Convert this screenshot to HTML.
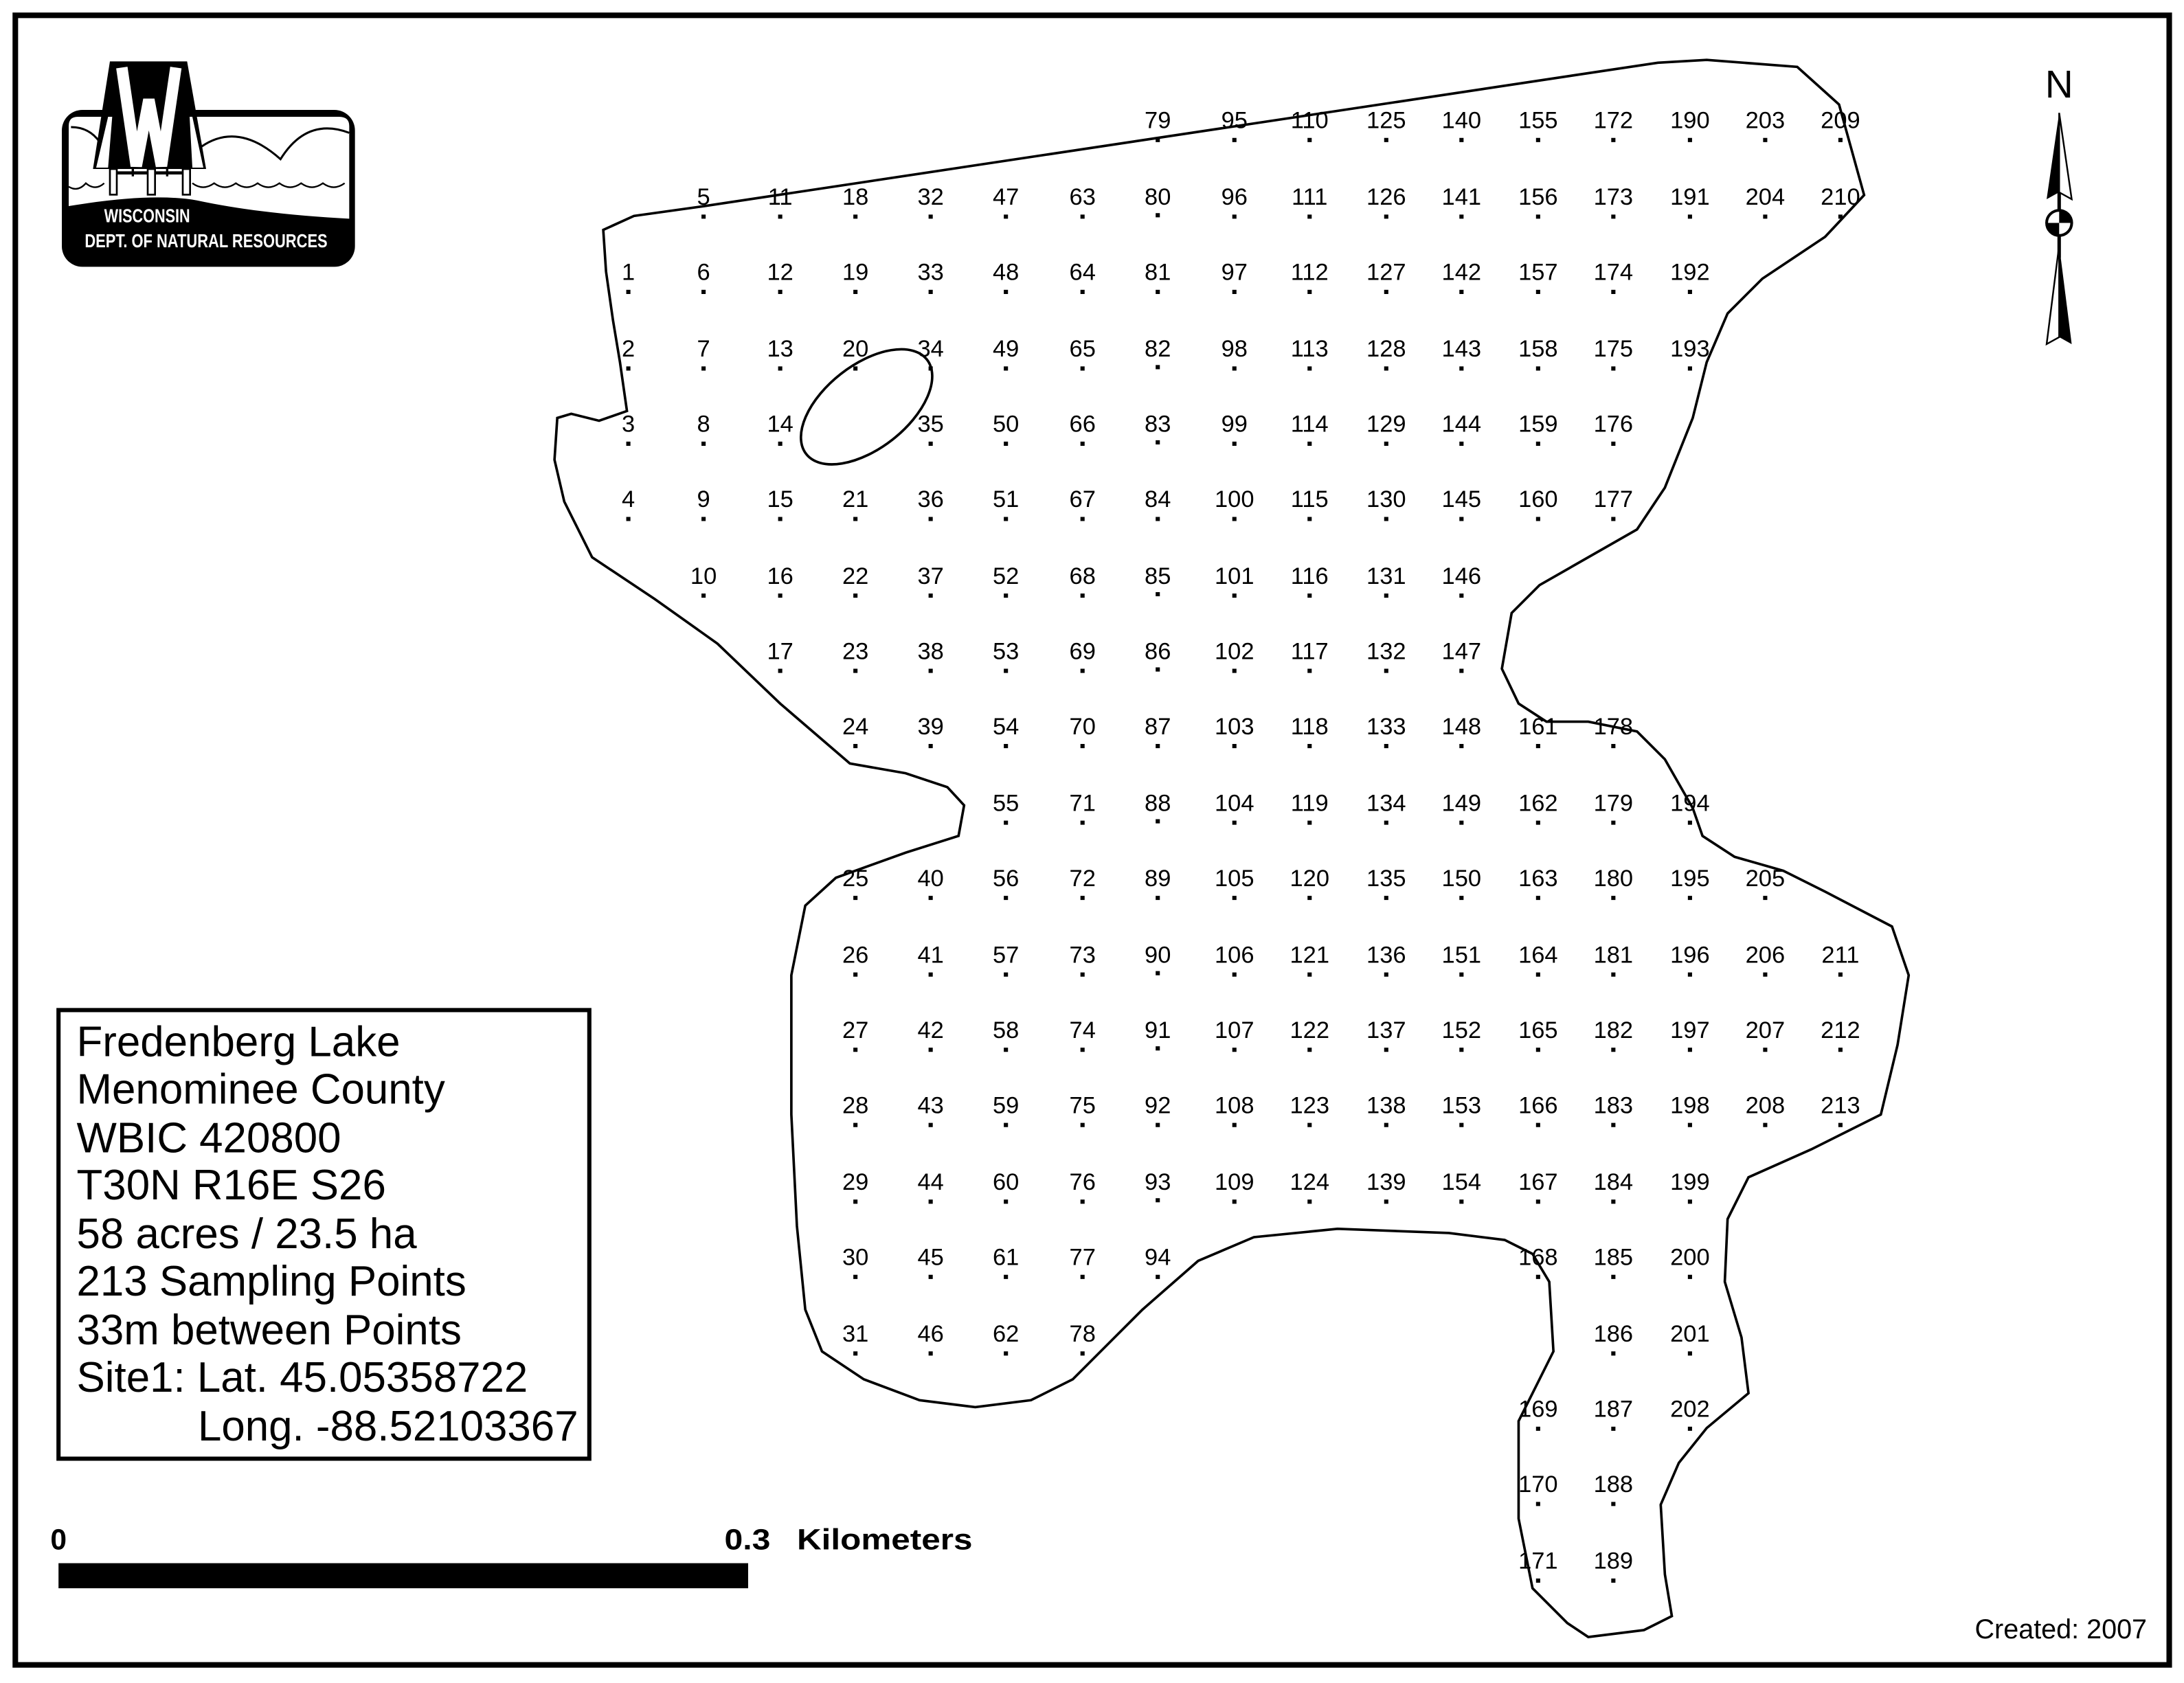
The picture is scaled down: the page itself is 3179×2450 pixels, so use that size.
<!DOCTYPE html>
<html><head><meta charset="utf-8"><style>
html,body{margin:0;padding:0;background:#fff}
svg{display:block}
.l text{font-family:"Liberation Sans",sans-serif;font-size:17px;text-anchor:middle;fill:#000}
</style></head><body>
<svg width="3179" height="2450" viewBox="0 0 1567.6 1208" preserveAspectRatio="none" xmlns="http://www.w3.org/2000/svg">
<rect x="0" y="0" width="1567.6" height="1208" fill="#fff"/>
<rect x="11" y="11" width="1546" height="1184" fill="none" stroke="#000" stroke-width="4"/>

<!-- lake -->
<path fill="none" stroke="#000" stroke-width="1.8" d="M433,165 L455,155 L505,148 L1190,45 L1225,43 L1290,48 L1320,75 L1338,140 L1310,170 L1265,200 L1240,225 L1225,260 L1215,300 L1195,350 L1175,380 L1140,400 L1105,420 L1085,440 L1078,480 L1090,505 L1110,518 L1140,518 L1175,525 L1195,545 L1215,580 L1222,600 L1245,615 L1280,625 L1310,640 L1358,665 L1370,700 L1362,750 L1350,800 L1300,825 L1255,845 L1240,875 L1238,920 L1250,960 L1255,1000 L1225,1025 L1205,1050 L1192,1080 L1195,1130 L1200,1160 L1180,1170 L1140,1175 L1125,1165 L1100,1140 L1090,1090 L1090,1020 L1115,970 L1112,920 L1100,900 L1080,890 L1040,885 L960,882 L900,888 L860,905 L820,940 L800,960 L770,990 L740,1005 L700,1010 L660,1005 L620,990 L590,970 L578,940 L572,880 L568,800 L568,700 L578,650 L600,630 L650,612 L688,600 L692,578 L680,565 L650,555 L610,548 L560,505 L515,462 L470,430 L425,400 L405,360 L398,330 L400,300 L410,297 L430,302 L450,295 L445,260 L440,230 L435,195 Z"/>
<ellipse cx="622" cy="292" rx="55" ry="30" transform="rotate(-38 622 292)" fill="none" stroke="#000" stroke-width="1.8"/>

<!-- logo (drawn in zoom coords) -->
<g transform="translate(39.45,34.52) scale(0.16437)">
<rect x="30" y="270" width="1280" height="685" rx="90" fill="#000"/>
<path d="M60,340 Q60,300 100,300 L1240,300 Q1285,300 1285,340 L1285,745 Q900,725 620,665 Q420,630 60,690 Z" fill="#fff"/>
<path d="M70,345 Q150,345 195,410 M640,430 Q800,320 985,485 Q1100,300 1285,370" fill="none" stroke="#000" stroke-width="9"/>
<path d="M60,605 q40,25 75,-15 q40,35 80,0 M600,590 q47,35 95,0 q47,35 95,0 q47,35 95,0 q47,35 95,0 q47,35 95,0 q47,35 95,0 q47,35 95,0" fill="none" stroke="#000" stroke-width="7"/>
<path d="M240,58 L577,58 L660,528 L166,528 Z" fill="#000"/>
<path d="M180,522 L232,300 L250,300 L232,522 Z M648,522 L600,300 L588,300 L600,522 Z" fill="#fff"/>
<polyline points="292,85 355,515 410,225 465,515 528,85" fill="none" stroke="#fff" stroke-width="50" stroke-linejoin="miter"/>
<g fill="#fff" stroke="#000" stroke-width="8">
<rect x="240" y="528" width="30" height="112"/>
<rect x="405" y="528" width="32" height="112"/>
<rect x="558" y="528" width="32" height="112"/>
</g>
<path d="M270,545 H405 M437,545 H558" stroke="#000" stroke-width="14"/>
<path d="M340,528 V560 M490,528 V560" stroke="#000" stroke-width="10"/>
<text x="215" y="760" font-family="Liberation Sans,sans-serif" font-weight="bold" font-size="82" fill="#fff" textLength="375" lengthAdjust="spacingAndGlyphs">WISCONSIN</text>
<text x="130" y="870" font-family="Liberation Sans,sans-serif" font-weight="bold" font-size="82" fill="#fff" textLength="1060" lengthAdjust="spacingAndGlyphs">DEPT. OF NATURAL RESOURCES</text>
</g>

<!-- north arrow -->
<text x="1478" y="70" font-family="Liberation Sans,sans-serif" font-size="28" text-anchor="middle">N</text>
<path d="M1478,81 L1469,143 L1478,138 Z" fill="#000"/>
<path d="M1478,81 L1487,143 L1478,138 Z" fill="#fff" stroke="#000" stroke-width="1.2"/>
<line x1="1478" y1="138" x2="1478" y2="185" stroke="#000" stroke-width="2.5"/>
<circle cx="1478" cy="160" r="9" fill="#fff" stroke="#000" stroke-width="2"/>
<path d="M1478,160 L1469,160 A9,9 0 0 0 1478,169 Z M1478,160 L1487,160 A9,9 0 0 0 1478,151 Z" fill="#000"/>
<path d="M1478,176 L1469,247 L1478,242 Z" fill="#fff" stroke="#000" stroke-width="1.2"/>
<path d="M1478,176 L1487,247 L1478,242 Z" fill="#000"/>

<!-- legend -->
<rect x="42" y="725" width="381" height="322" fill="#fff" stroke="#000" stroke-width="3"/>
<g font-family="Liberation Sans,sans-serif" font-size="30.5" fill="#000">
<text x="55" y="758">Fredenberg Lake</text>
<text x="55" y="792">Menominee County</text>
<text x="55" y="827">WBIC 420800</text>
<text x="55" y="861">T30N R16E S26</text>
<text x="55" y="896">58 acres / 23.5 ha</text>
<text x="55" y="930">213 Sampling Points</text>
<text x="55" y="965">33m between Points</text>
<text x="55" y="999">Site1: Lat. 45.05358722</text>
<text x="142" y="1034">Long. -88.52103367</text>
</g>

<!-- scale -->
<rect x="42" y="1122" width="495" height="18" fill="#000"/>
<g font-family="Liberation Sans,sans-serif" font-size="21" font-weight="bold">
<text x="42" y="1112" text-anchor="middle">0</text>
<text x="520" y="1112" textLength="33" lengthAdjust="spacingAndGlyphs">0.3</text>
<text x="572" y="1112" textLength="126" lengthAdjust="spacingAndGlyphs">Kilometers</text>
</g>
<text x="1541" y="1176" font-family="Liberation Sans,sans-serif" font-size="19.5" text-anchor="end">Created: 2007</text>

<!-- points -->
<g class="l">
<text x="451" y="201">1</text><text x="451" y="256">2</text><text x="451" y="310">3</text><text x="451" y="364">4</text>
<text x="505" y="147">5</text><text x="505" y="201">6</text><text x="505" y="256">7</text><text x="505" y="310">8</text><text x="505" y="364">9</text><text x="505" y="419">10</text>
<text x="560" y="147">11</text><text x="560" y="201">12</text><text x="560" y="256">13</text><text x="560" y="310">14</text><text x="560" y="364">15</text><text x="560" y="419">16</text><text x="560" y="473">17</text>
<text x="614" y="147">18</text><text x="614" y="201">19</text><text x="614" y="256">20</text><text x="614" y="364">21</text><text x="614" y="419">22</text><text x="614" y="473">23</text><text x="614" y="527">24</text><text x="614" y="636">25</text><text x="614" y="691">26</text><text x="614" y="745">27</text><text x="614" y="799">28</text><text x="614" y="854">29</text><text x="614" y="908">30</text><text x="614" y="963">31</text>
<text x="668" y="147">32</text><text x="668" y="201">33</text><text x="668" y="256">34</text><text x="668" y="310">35</text><text x="668" y="364">36</text><text x="668" y="419">37</text><text x="668" y="473">38</text><text x="668" y="527">39</text><text x="668" y="636">40</text><text x="668" y="691">41</text><text x="668" y="745">42</text><text x="668" y="799">43</text><text x="668" y="854">44</text><text x="668" y="908">45</text><text x="668" y="963">46</text>
<text x="722" y="147">47</text><text x="722" y="201">48</text><text x="722" y="256">49</text><text x="722" y="310">50</text><text x="722" y="364">51</text><text x="722" y="419">52</text><text x="722" y="473">53</text><text x="722" y="527">54</text><text x="722" y="582">55</text><text x="722" y="636">56</text><text x="722" y="691">57</text><text x="722" y="745">58</text><text x="722" y="799">59</text><text x="722" y="854">60</text><text x="722" y="908">61</text><text x="722" y="963">62</text>
<text x="777" y="147">63</text><text x="777" y="201">64</text><text x="777" y="256">65</text><text x="777" y="310">66</text><text x="777" y="364">67</text><text x="777" y="419">68</text><text x="777" y="473">69</text><text x="777" y="527">70</text><text x="777" y="582">71</text><text x="777" y="636">72</text><text x="777" y="691">73</text><text x="777" y="745">74</text><text x="777" y="799">75</text><text x="777" y="854">76</text><text x="777" y="908">77</text><text x="777" y="963">78</text>
<text x="831" y="92">79</text><text x="831" y="147">80</text><text x="831" y="201">81</text><text x="831" y="256">82</text><text x="831" y="310">83</text><text x="831" y="364">84</text><text x="831" y="419">85</text><text x="831" y="473">86</text><text x="831" y="527">87</text><text x="831" y="582">88</text><text x="831" y="636">89</text><text x="831" y="691">90</text><text x="831" y="745">91</text><text x="831" y="799">92</text><text x="831" y="854">93</text><text x="831" y="908">94</text>
<text x="886" y="92">95</text><text x="886" y="147">96</text><text x="886" y="201">97</text><text x="886" y="256">98</text><text x="886" y="310">99</text><text x="886" y="364">100</text><text x="886" y="419">101</text><text x="886" y="473">102</text><text x="886" y="527">103</text><text x="886" y="582">104</text><text x="886" y="636">105</text><text x="886" y="691">106</text><text x="886" y="745">107</text><text x="886" y="799">108</text><text x="886" y="854">109</text>
<text x="940" y="92">110</text><text x="940" y="147">111</text><text x="940" y="201">112</text><text x="940" y="256">113</text><text x="940" y="310">114</text><text x="940" y="364">115</text><text x="940" y="419">116</text><text x="940" y="473">117</text><text x="940" y="527">118</text><text x="940" y="582">119</text><text x="940" y="636">120</text><text x="940" y="691">121</text><text x="940" y="745">122</text><text x="940" y="799">123</text><text x="940" y="854">124</text>
<text x="995" y="92">125</text><text x="995" y="147">126</text><text x="995" y="201">127</text><text x="995" y="256">128</text><text x="995" y="310">129</text><text x="995" y="364">130</text><text x="995" y="419">131</text><text x="995" y="473">132</text><text x="995" y="527">133</text><text x="995" y="582">134</text><text x="995" y="636">135</text><text x="995" y="691">136</text><text x="995" y="745">137</text><text x="995" y="799">138</text><text x="995" y="854">139</text>
<text x="1049" y="92">140</text><text x="1049" y="147">141</text><text x="1049" y="201">142</text><text x="1049" y="256">143</text><text x="1049" y="310">144</text><text x="1049" y="364">145</text><text x="1049" y="419">146</text><text x="1049" y="473">147</text><text x="1049" y="527">148</text><text x="1049" y="582">149</text><text x="1049" y="636">150</text><text x="1049" y="691">151</text><text x="1049" y="745">152</text><text x="1049" y="799">153</text><text x="1049" y="854">154</text>
<text x="1104" y="92">155</text><text x="1104" y="147">156</text><text x="1104" y="201">157</text><text x="1104" y="256">158</text><text x="1104" y="310">159</text><text x="1104" y="364">160</text><text x="1104" y="527">161</text><text x="1104" y="582">162</text><text x="1104" y="636">163</text><text x="1104" y="691">164</text><text x="1104" y="745">165</text><text x="1104" y="799">166</text><text x="1104" y="854">167</text><text x="1104" y="908">168</text><text x="1104" y="1017">169</text><text x="1104" y="1071">170</text><text x="1104" y="1126">171</text>
<text x="1158" y="92">172</text><text x="1158" y="147">173</text><text x="1158" y="201">174</text><text x="1158" y="256">175</text><text x="1158" y="310">176</text><text x="1158" y="364">177</text><text x="1158" y="527">178</text><text x="1158" y="582">179</text><text x="1158" y="636">180</text><text x="1158" y="691">181</text><text x="1158" y="745">182</text><text x="1158" y="799">183</text><text x="1158" y="854">184</text><text x="1158" y="908">185</text><text x="1158" y="963">186</text><text x="1158" y="1017">187</text><text x="1158" y="1071">188</text><text x="1158" y="1126">189</text>
<text x="1213" y="92">190</text><text x="1213" y="147">191</text><text x="1213" y="201">192</text><text x="1213" y="256">193</text><text x="1213" y="582">194</text><text x="1213" y="636">195</text><text x="1213" y="691">196</text><text x="1213" y="745">197</text><text x="1213" y="799">198</text><text x="1213" y="854">199</text><text x="1213" y="908">200</text><text x="1213" y="963">201</text><text x="1213" y="1017">202</text>
<text x="1267" y="92">203</text><text x="1267" y="147">204</text><text x="1267" y="636">205</text><text x="1267" y="691">206</text><text x="1267" y="745">207</text><text x="1267" y="799">208</text>
<text x="1321" y="92">209</text><text x="1321" y="147">210</text><text x="1321" y="691">211</text><text x="1321" y="745">212</text><text x="1321" y="799">213</text>
</g>
<!-- dots -->
<g fill="#000">
<path d="M449.5,208h3v3h-3z M449.5,263h3v3h-3z M449.5,317h3v3h-3z M449.5,371h3v3h-3z
M503.5,154h3v3h-3z M503.5,208h3v3h-3z M503.5,263h3v3h-3z M503.5,317h3v3h-3z M503.5,371h3v3h-3z M503.5,426h3v3h-3z
M558.5,154h3v3h-3z M558.5,208h3v3h-3z M558.5,263h3v3h-3z M558.5,317h3v3h-3z M558.5,371h3v3h-3z M558.5,426h3v3h-3z M558.5,480h3v3h-3z
M612.5,154h3v3h-3z M612.5,208h3v3h-3z M612.5,263h3v3h-3z M612.5,371h3v3h-3z M612.5,426h3v3h-3z M612.5,480h3v3h-3z M612.5,534h3v3h-3z M612.5,643h3v3h-3z M612.5,698h3v3h-3z M612.5,752h3v3h-3z M612.5,806h3v3h-3z M612.5,861h3v3h-3z M612.5,915h3v3h-3z M612.5,970h3v3h-3z
M666.5,154h3v3h-3z M666.5,208h3v3h-3z M666.5,263h3v3h-3z M666.5,317h3v3h-3z M666.5,371h3v3h-3z M666.5,426h3v3h-3z M666.5,480h3v3h-3z M666.5,534h3v3h-3z M666.5,643h3v3h-3z M666.5,698h3v3h-3z M666.5,752h3v3h-3z M666.5,806h3v3h-3z M666.5,861h3v3h-3z M666.5,915h3v3h-3z M666.5,970h3v3h-3z"/>
<path d="M720.5,154h3v3h-3z M720.5,208h3v3h-3z M720.5,263h3v3h-3z M720.5,317h3v3h-3z M720.5,371h3v3h-3z M720.5,426h3v3h-3z M720.5,480h3v3h-3z M720.5,534h3v3h-3z M720.5,589h3v3h-3z M720.5,643h3v3h-3z M720.5,698h3v3h-3z M720.5,752h3v3h-3z M720.5,806h3v3h-3z M720.5,861h3v3h-3z M720.5,915h3v3h-3z M720.5,970h3v3h-3z"/>
<path transform="translate(55,0)" d="M720.5,154h3v3h-3z M720.5,208h3v3h-3z M720.5,263h3v3h-3z M720.5,317h3v3h-3z M720.5,371h3v3h-3z M720.5,426h3v3h-3z M720.5,480h3v3h-3z M720.5,534h3v3h-3z M720.5,589h3v3h-3z M720.5,643h3v3h-3z M720.5,698h3v3h-3z M720.5,752h3v3h-3z M720.5,806h3v3h-3z M720.5,861h3v3h-3z M720.5,915h3v3h-3z M720.5,970h3v3h-3z"/>
<path transform="translate(109,-55)" d="M720.5,154h3v3h-3z M720.5,208h3v3h-3z M720.5,263h3v3h-3z M720.5,317h3v3h-3z M720.5,371h3v3h-3z M720.5,426h3v3h-3z M720.5,480h3v3h-3z M720.5,534h3v3h-3z M720.5,589h3v3h-3z M720.5,643h3v3h-3z M720.5,698h3v3h-3z M720.5,752h3v3h-3z M720.5,806h3v3h-3z M720.5,861h3v3h-3z M720.5,915h3v3h-3z M720.5,970h3v3h-3z"/>
<path d="M884.5,99h3v3h-3z M884.5,154h3v3h-3z M884.5,208h3v3h-3z M884.5,263h3v3h-3z M884.5,317h3v3h-3z M884.5,371h3v3h-3z M884.5,426h3v3h-3z M884.5,480h3v3h-3z M884.5,534h3v3h-3z M884.5,589h3v3h-3z M884.5,643h3v3h-3z M884.5,698h3v3h-3z M884.5,752h3v3h-3z M884.5,806h3v3h-3z M884.5,861h3v3h-3z"/>
<path transform="translate(54,0)" d="M884.5,99h3v3h-3z M884.5,154h3v3h-3z M884.5,208h3v3h-3z M884.5,263h3v3h-3z M884.5,317h3v3h-3z M884.5,371h3v3h-3z M884.5,426h3v3h-3z M884.5,480h3v3h-3z M884.5,534h3v3h-3z M884.5,589h3v3h-3z M884.5,643h3v3h-3z M884.5,698h3v3h-3z M884.5,752h3v3h-3z M884.5,806h3v3h-3z M884.5,861h3v3h-3z"/>
<path transform="translate(109,0)" d="M884.5,99h3v3h-3z M884.5,154h3v3h-3z M884.5,208h3v3h-3z M884.5,263h3v3h-3z M884.5,317h3v3h-3z M884.5,371h3v3h-3z M884.5,426h3v3h-3z M884.5,480h3v3h-3z M884.5,534h3v3h-3z M884.5,589h3v3h-3z M884.5,643h3v3h-3z M884.5,698h3v3h-3z M884.5,752h3v3h-3z M884.5,806h3v3h-3z M884.5,861h3v3h-3z"/>
<path transform="translate(163,0)" d="M884.5,99h3v3h-3z M884.5,154h3v3h-3z M884.5,208h3v3h-3z M884.5,263h3v3h-3z M884.5,317h3v3h-3z M884.5,371h3v3h-3z M884.5,426h3v3h-3z M884.5,480h3v3h-3z M884.5,534h3v3h-3z M884.5,589h3v3h-3z M884.5,643h3v3h-3z M884.5,698h3v3h-3z M884.5,752h3v3h-3z M884.5,806h3v3h-3z M884.5,861h3v3h-3z"/>
<path d="M1102.5,99h3v3h-3z M1102.5,154h3v3h-3z M1102.5,208h3v3h-3z M1102.5,263h3v3h-3z M1102.5,317h3v3h-3z M1102.5,371h3v3h-3z M1102.5,534h3v3h-3z M1102.5,589h3v3h-3z M1102.5,643h3v3h-3z M1102.5,698h3v3h-3z M1102.5,752h3v3h-3z M1102.5,806h3v3h-3z M1102.5,861h3v3h-3z M1102.5,915h3v3h-3z M1102.5,1024h3v3h-3z M1102.5,1078h3v3h-3z M1102.5,1133h3v3h-3z
M1156.5,99h3v3h-3z M1156.5,154h3v3h-3z M1156.5,208h3v3h-3z M1156.5,263h3v3h-3z M1156.5,317h3v3h-3z M1156.5,371h3v3h-3z M1156.5,534h3v3h-3z M1156.5,589h3v3h-3z M1156.5,643h3v3h-3z M1156.5,698h3v3h-3z M1156.5,752h3v3h-3z M1156.5,806h3v3h-3z M1156.5,861h3v3h-3z M1156.5,915h3v3h-3z M1156.5,970h3v3h-3z M1156.5,1024h3v3h-3z M1156.5,1078h3v3h-3z M1156.5,1133h3v3h-3z
M1211.5,99h3v3h-3z M1211.5,154h3v3h-3z M1211.5,208h3v3h-3z M1211.5,263h3v3h-3z M1211.5,589h3v3h-3z M1211.5,643h3v3h-3z M1211.5,698h3v3h-3z M1211.5,752h3v3h-3z M1211.5,806h3v3h-3z M1211.5,861h3v3h-3z M1211.5,915h3v3h-3z M1211.5,970h3v3h-3z M1211.5,1024h3v3h-3z
M1265.5,99h3v3h-3z M1265.5,154h3v3h-3z M1265.5,643h3v3h-3z M1265.5,698h3v3h-3z M1265.5,752h3v3h-3z M1265.5,806h3v3h-3z
M1319.5,99h3v3h-3z M1319.5,154h3v3h-3z M1319.5,698h3v3h-3z M1319.5,752h3v3h-3z M1319.5,806h3v3h-3z"/>
</g>
</svg>
</body></html>
